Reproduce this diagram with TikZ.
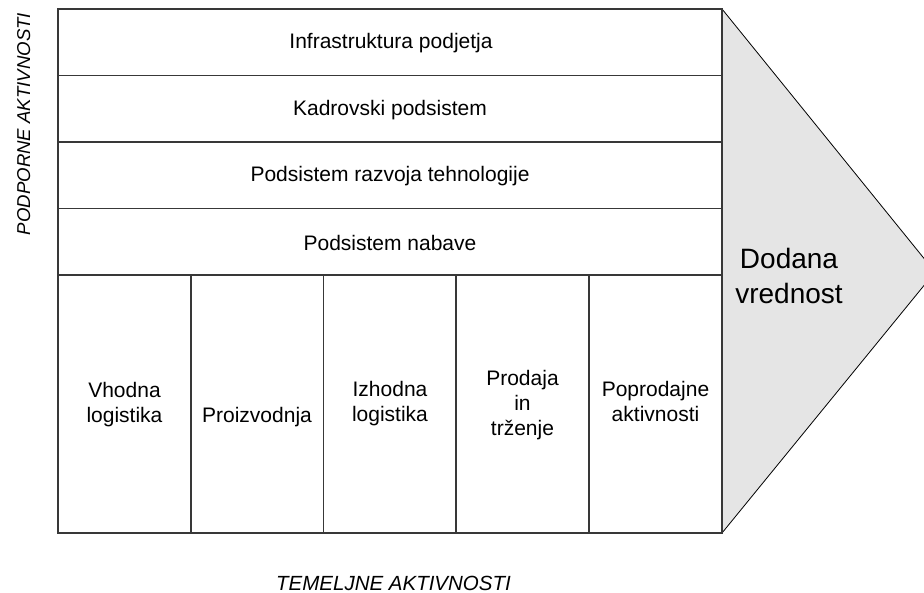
\documentclass[tikz,border=0pt]{standalone}
\usepackage{fontspec}
\setmainfont{Liberation Sans}
\begin{document}
\begin{tikzpicture}[x=1pt,y=-1pt,
  frame/.style={draw=black!78,line width=1.1pt},
  lbl/.style={font=\fontsize{21}{25}\selectfont,align=center,inner sep=0pt},
  biglbl/.style={font=\fontsize{28}{35}\selectfont,align=center,inner sep=0pt},
  axislbl/.style={font=\fontsize{20.5}{25}\selectfont\itshape,inner sep=0pt}]
\useasboundingbox (0,0) rectangle (924,593);
\begin{scope}
\clip (0,0) rectangle (924,593);
% value arrow head
\coordinate (ttop) at (722,9);
\coordinate (tbot) at (722,533);
\coordinate (tapex) at (935,272);
\filldraw[fill=black!10,draw=black,line width=0.8pt] (ttop) -- (tapex) -- (tbot);
\end{scope}
% support activity rows
\coordinate (r0) at (58,9);
\coordinate (r1) at (58,75.5);
\coordinate (r2) at (58,142);
\coordinate (r3) at (58,208.5);
\coordinate (r4) at (58,275);
\draw[frame] (r1) -- +(664,0) (r2) -- +(664,0) (r3) -- +(664,0) (r4) -- +(664,0);
% primary activity columns
\foreach \cx in {191,323.5,456,589}
  \draw[frame] (\cx,275) -- (\cx,533);
\draw[frame] (r0) rectangle (tbot);
\draw[frame,fill=none] (ttop) -- (tbot);
% row labels
\node[lbl] (infra) at (391,43.5) {Infrastruktura podjetja};
\node[lbl] (kadr) at (390,110) {Kadrovski podsistem};
\node[lbl] (tech) at (390,176.5) {Podsistem razvoja tehnologije};
\node[lbl] (nab) at (390,243) {Podsistem nabave};
% column labels
\node[lbl] (vhod) at (124.5,404.4) {Vhodna\\logistika};
\node[lbl] (proiz) at (257,417) {Proizvodnja};
\node[lbl] (izhod) at (390,403.7) {Izhodna\\logistika};
\node[lbl] (prod) at (522.5,405.5) {Prodaja\\in\\trženje};
\node[lbl] (poprod) at (655.5,401.5) {Poprodajne\\aktivnosti};
% value label
\node[biglbl] (dodana) at (789,276) {Dodana\\vrednost};
% axis labels
\node[axislbl,anchor=base] (temelj) at (393.5,590) {TEMELJNE AKTIVNOSTI};
\node[axislbl,anchor=base,rotate=90,font=\fontsize{18.6}{22}\selectfont\itshape] (podp) at (30,124) {PODPORNE AKTIVNOSTI};
\end{tikzpicture}
\end{document}
